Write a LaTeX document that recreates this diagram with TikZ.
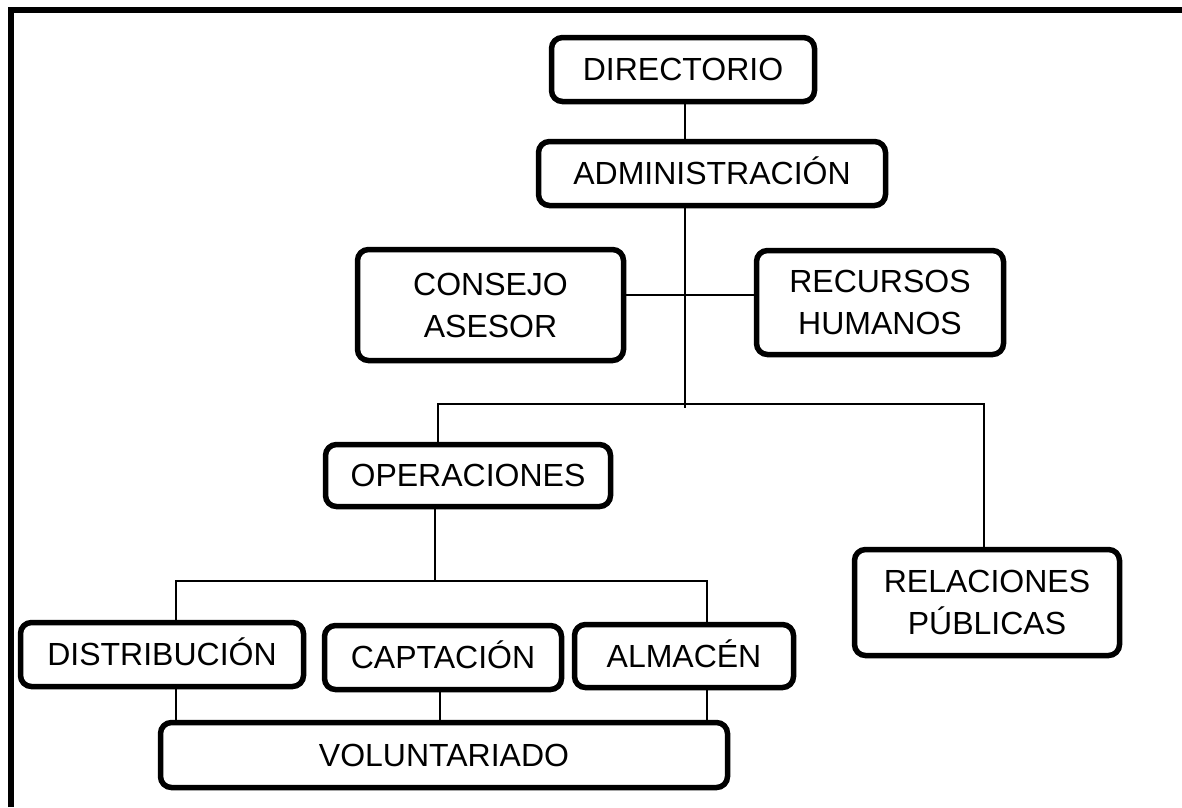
\documentclass[tikz,border=0pt]{standalone}
\usepackage{fontspec}
\setmainfont{Liberation Sans}
\begin{document}
\begin{tikzpicture}[x=1pt,y=-1pt,
  box/.style={draw, line width=5.5pt, rounded corners=11pt, fill=white, align=center,
    font=\fontsize{32}{42}\selectfont, inner sep=0pt},
  oneline/.style={text height=22.9pt, text depth=0pt},
  link/.style={line width=1.6pt},
  frame/.style={line width=5.5pt, line join=miter}]
\useasboundingbox (0,0) rectangle (1182,807);
\fill[white] (0,0) rectangle (1182,807);
\draw[frame] (11,807) -- (11,10) -- (1182,10);

\node[box, oneline, minimum width=263pt, minimum height=64pt] (dir) at (683,69.5) {DIRECTORIO};
\node[box, oneline, minimum width=347pt, minimum height=64pt] (adm) at (712,173.5) {ADMINISTRACIÓN};
\node[box, minimum width=266pt, minimum height=111pt] (cons) at (490.5,305) {CONSEJO\\ASESOR};
\node[box, minimum width=247pt, minimum height=104pt] (rrhh) at (880,302.5) {RECURSOS\\HUMANOS};
\node[box, oneline, minimum width=285pt, minimum height=62pt] (ope) at (468,475.5) {OPERACIONES};
\node[box, minimum width=265pt, minimum height=106pt] (rel) at (987,602.5) {RELACIONES\\PÚBLICAS};
\node[box, oneline, minimum width=283pt, minimum height=64pt] (dist) at (162,654.5) {DISTRIBUCIÓN};
\node[box, oneline, minimum width=237pt, minimum height=64pt] (capt) at (443,657.5) {CAPTACIÓN};
\node[box, oneline, minimum width=219pt, minimum height=63pt] (alm) at (684,656) {ALMACÉN};
\node[box, oneline, minimum width=567pt, minimum height=65pt] (vol) at (444,755) {VOLUNTARIADO};

\coordinate (a) at (685,408);
\coordinate (cr) at (0,295);
\coordinate (b1) at (438,404);
\coordinate (b2) at (984,404);
\coordinate (c0) at (435,581);
\coordinate (c1) at (176,581);
\coordinate (c2) at (707,581);
\coordinate (d) at (440,0);

\draw[link] (dir.south -| a) -- (adm.north -| a);
\draw[link] (adm.south -| a) -- (a);
\draw[link] (cons.east |- cr) -- (rrhh.west |- cr);
\draw[link] (ope.north -| b1) -- (b1) -- (b2) -- (rel.north -| b2);
\draw[link] (ope.south -| c0) -- (c0);
\draw[link] (dist.north -| c1) -- (c1) -- (c2) -- (alm.north -| c2);
\draw[link] (dist.south -| c1) -- (vol.north -| c1);
\draw[link] (capt.south -| d) -- (vol.north -| d);
\draw[link] (alm.south -| c2) -- (vol.north -| c2);
\end{tikzpicture}
\end{document}
